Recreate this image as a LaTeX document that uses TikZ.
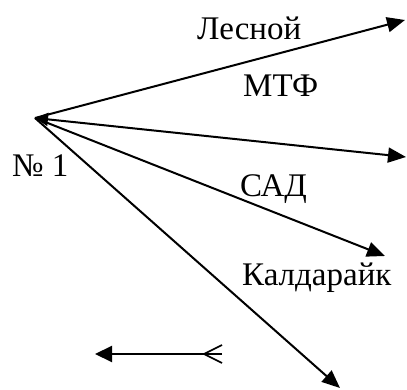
\documentclass[tikz,border=0pt]{standalone}
\usepackage{fontspec}
\setmainfont{Liberation Serif}
\usetikzlibrary{arrows.meta}
\begin{document}
\begin{tikzpicture}[x=1pt,y=-1pt,
  ray/.style={line width=2pt,line cap=butt,-{Triangle[length=18pt,width=15pt]}},
  lbl/.style={anchor=base west,inner sep=0pt,font=\fontsize{33}{36}\selectfont}]
\useasboundingbox (0,0) rectangle (407,390);
% source point and the ends of the rays
\coordinate (src) at (35,118);
\coordinate (lesnoy) at (405,20);
\coordinate (mtf) at (406,157);
\coordinate (sad) at (385,256);
\coordinate (kald) at (340,388);
% rays
\draw[ray] (src) -- (lesnoy);
\draw[ray,{Triangle[length=13pt,width=13pt]}-{Triangle[length=18pt,width=15pt]}] (src) -- (mtf);
\draw[ray] (src) -- (sad);
\draw[ray] (src) -- (kald);
% labels
\node[lbl] (tLesnoy) at (197,40) {Лесной};
\node[lbl] (tMtf) at (243,97) {МТФ};
\node[lbl] (tNo) at (12,177) {№ 1};
\node[lbl] (tSad) at (240,197) {САД};
\node[lbl] (tKald) at (242,285) {Калдарайк};
% legend arrow
\coordinate (la) at (222,354);
\coordinate (lb) at (95,354);
\coordinate (lv) at (204,354);
\draw[line width=2pt,-{Triangle[length=17pt,width=16pt]}] (la) -- (lb);
\draw[line width=1.6pt] (222,345) -- (lv) -- (222,363);
\end{tikzpicture}
\end{document}
